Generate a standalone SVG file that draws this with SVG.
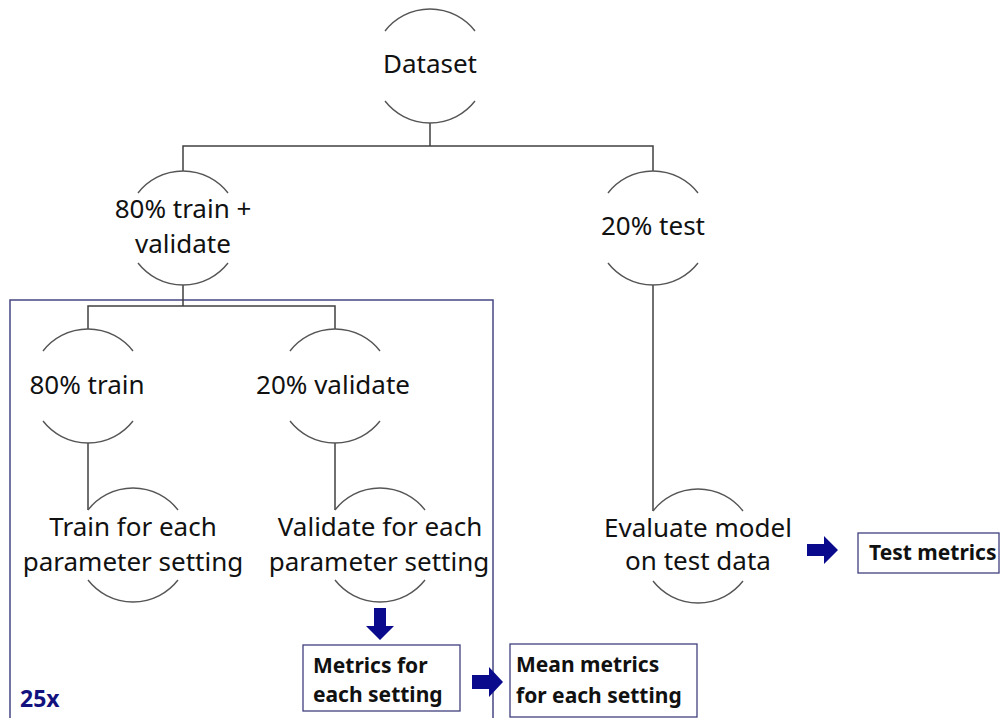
<svg xmlns="http://www.w3.org/2000/svg" width="1000" height="718" viewBox="0 0 1000 718">
<style>
.arc{fill:none;stroke:#555;stroke-width:1.4}
.con{fill:none;stroke:#404040;stroke-width:1.5}
.lbl{font-family:"Noto Sans","Open Sans",sans-serif;font-size:26px;fill:#111;text-anchor:middle}
.bold{font-family:"Noto Sans","Open Sans",sans-serif;font-size:21px;font-weight:bold;fill:#111}
.box{fill:#fff;stroke:#3f3f7f;stroke-width:1.3}
.blk{fill:#0a0a8c}
</style>
<rect width="1000" height="718" fill="#fff"/>
<g id="frame">
<path d="M10 725 V300 H493 V725" fill="none" stroke="#474785" stroke-width="1.5"/>
<text x="20" y="707" font-family="Noto Sans, sans-serif" font-size="23" font-weight="bold" fill="#12127f">25x</text>
</g>
<g id="connectors">
<path class="con" d="M430 123 V146 M183 171 V146 H653 V171"/>
<path class="con" d="M183 285 V306 M88 329 V306 H335 V329"/>
<path class="con" d="M88 443 V510"/>
<path class="con" d="M335 443 V510"/>
<path class="con" d="M653 285 V511"/>
<path class="blk" d="M374 608 H386 V626 H394 L380 640 L366 626 H374 Z"/>
<path class="blk" d="M472 675 H489 V667 L503 682 L489 697 V689 H472 Z"/>
<path class="blk" d="M807 544 H824 V536 L838 550 L824 564 V556 H807 Z"/>
</g>
<g id="n-dataset">
<path class="arc" d="M385 31 A57 57 0 0 1 475 31 M385 101 A57 57 0 0 0 475 101"/>
<text class="lbl" x="430" y="73">Dataset</text>
</g>
<g id="n-trainval">
<path class="arc" d="M138 193 A57 57 0 0 1 228 193 M138 263 A57 57 0 0 0 228 263"/>
<text class="lbl" x="183" y="218">80% train +</text>
<text class="lbl" x="183" y="253">validate</text>
</g>
<g id="n-test">
<path class="arc" d="M608 193 A57 57 0 0 1 698 193 M608 263 A57 57 0 0 0 698 263"/>
<text class="lbl" x="653" y="235">20% test</text>
</g>
<g id="n-train">
<path class="arc" d="M43 351 A57 57 0 0 1 133 351 M43 421 A57 57 0 0 0 133 421"/>
<text class="lbl" x="87" y="394">80% train</text>
</g>
<g id="n-validate">
<path class="arc" d="M290 351 A57 57 0 0 1 380 351 M290 421 A57 57 0 0 0 380 421"/>
<text class="lbl" x="333" y="394">20% validate</text>
</g>
<g id="n-trainEach">
<path class="arc" d="M88 510 A57 57 0 0 1 178 510 M88 580 A57 57 0 0 0 178 580"/>
<text class="lbl" x="133" y="536">Train for each</text>
<text class="lbl" x="133" y="571">parameter setting</text>
</g>
<g id="n-validateEach">
<path class="arc" d="M335 510 A57 57 0 0 1 425 510 M335 580 A57 57 0 0 0 425 580"/>
<text class="lbl" x="380" y="536">Validate for each</text>
<text class="lbl" x="379" y="571">parameter setting</text>
</g>
<g id="n-evaluate">
<path class="arc" d="M653 511 A57 57 0 0 1 743 511 M653 581 A57 57 0 0 0 743 581"/>
<text class="lbl" x="698" y="537">Evaluate model</text>
<text class="lbl" x="698" y="570">on test data</text>
</g>
<g id="n-metrics">
<rect class="box" x="303" y="645" width="157" height="66"/>
<text class="bold" x="313" y="673">Metrics for</text>
<text class="bold" x="313" y="702">each setting</text>
</g>
<g id="n-mean">
<rect class="box" x="510" y="644" width="187" height="73"/>
<text class="bold" x="516" y="672">Mean metrics</text>
<text class="bold" x="516" y="703">for each setting</text>
</g>
<g id="n-testmetrics">
<rect class="box" x="858" y="533" width="141" height="40"/>
<text class="bold" x="869" y="560">Test metrics</text>
</g>
</svg>
